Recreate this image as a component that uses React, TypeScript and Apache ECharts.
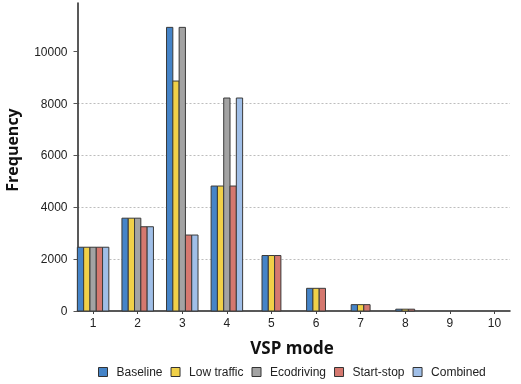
import React, { useEffect, useRef } from "react";
import * as echarts from "echarts";

const modes = [1, 2, 3, 4, 5, 6, 7, 8, 9, 10];
const seriesNames = ["Baseline", "Low traffic", "Ecodriving", "Start-stop", "Combined"];
const baseline = [2460, 3580, 10940, 4820, 2140, 875, 245, 70, null, null];
const lowTraffic = [2460, 3580, 8870, 4820, 2140, 875, 245, 70, null, null];
const ecodriving = [2460, 3580, 10940, 8215, null, null, null, null, null, null];
const startStop = [2460, 3250, 2930, 4820, 2140, 875, 245, 70, null, null];
const combined = [2460, 3250, 2930, 8215, null, null, null, null, null, null];
const yTicks = [0, 2000, 4000, 6000, 8000, 10000];

const colors = ["#4584c8", "#f0d048", "#a3a3a3", "#d5786f", "#a0bfe8"];
const allValues = [baseline, lowTraffic, ecodriving, startStop, combined];

const TITLE_FONT = "'Open Sans', 'Noto Sans', sans-serif";
const FONT = "'Liberation Sans', Arial, sans-serif";
const BAR_W = 6.3;

export default function App() {
  const ref = useRef<HTMLDivElement>(null);
  useEffect(() => {
    if (!ref.current) return;
    const chart = echarts.init(ref.current, null, { renderer: "svg" });
    const series = seriesNames.map((name, sIndex) => ({
      type: "custom",
      name,
      itemStyle: { color: colors[sIndex], borderColor: "#333", borderWidth: 1 },
      data: modes
        .map((m, i) => [m, allValues[sIndex][i]])
        .filter((d) => d[1] != null),
      renderItem: (params: any, api: any) => {
        const mode = api.value(0);
        const v = api.value(1);
        const idx = modes.indexOf(mode);
        const present = allValues
          .map((vals, k) => (vals[idx] != null ? k : -1))
          .filter((k) => k >= 0);
        const pos = present.indexOf(sIndex);
        const n = present.length;
        const top = api.coord([mode, v]);
        const base = api.coord([mode, 0]);
        const cx = top[0] + (pos - (n - 1) / 2) * BAR_W;
        return {
          type: "rect",
          shape: { x: cx - BAR_W / 2, y: top[1], width: BAR_W, height: base[1] - top[1] },
          style: { fill: colors[sIndex], stroke: "#3a3a3a", lineWidth: 1 },
        };
      },
    }));
    chart.setOption({
      animation: false,
      grid: { left: 77.5, right: 11, top: 3, bottom: 73, containLabel: false },
      xAxis: {
        type: "value",
        min: 0.65,
        max: 10.35,
        axisLine: { show: true, lineStyle: { color: "#222", width: 1.5 } },
        axisTick: {
          show: true,
          customValues: modes,
          length: 3,
          lineStyle: { color: "#444", width: 1 },
        },
        splitLine: { show: false },
        axisLabel: {
          customValues: modes,
          color: "#222",
          fontSize: 12,
          fontFamily: FONT,
          margin: 6,
        },
      },
      yAxis: {
        type: "value",
        min: 0,
        max: 11880,
        interval: 2000,
        axisLine: { show: true, lineStyle: { color: "#222", width: 1.5 } },
        axisTick: {
          show: true,
          customValues: yTicks,
          length: 4,
          lineStyle: { color: "#555", width: 1 },
        },
        axisLabel: {
          customValues: yTicks,
          formatter: (v: number) => String(v),
          color: "#222",
          fontSize: 12,
          fontFamily: FONT,
          margin: 10,
        },
        splitLine: {
          show: true,
          showMinLine: false,
          showMaxLine: false,
          lineStyle: { color: "#bdbdbd", type: [2, 2], width: 1 },
        },
      },
      legend: {
        data: seriesNames.map((n, i) => ({
          name: n,
          itemStyle: { color: colors[i], borderColor: "#333", borderWidth: 1 },
        })),
        top: 366,
        left: 98,
        icon: "rect",
        itemWidth: 9,
        itemHeight: 9,
        itemGap: 8,
        padding: 0,
        textStyle: {
          fontSize: 12,
          fontFamily: FONT,
          color: "#222",
          padding: [0, 0, 0, 4],
        },
      },
      graphic: [
        {
          type: "text",
          x: 12,
          y: 150,
          rotation: Math.PI / 2,
          style: {
            text: "Frequency",
            align: "center",
            verticalAlign: "middle",
            font: `bold 16px ${TITLE_FONT}`,
            fill: "#111",
          },
        },
        {
          type: "text",
          x: 292,
          y: 347,
          style: {
            text: "VSP mode",
            align: "center",
            verticalAlign: "middle",
            font: `bold 17px ${TITLE_FONT}`,
            fill: "#111",
          },
        },
      ],
      series,
    });
    return () => chart.dispose();
  }, []);
  return (
    <div
      ref={ref}
      style={{ position: "fixed", left: 0, top: 0, width: 521, height: 384 }}
    />
  );
}
